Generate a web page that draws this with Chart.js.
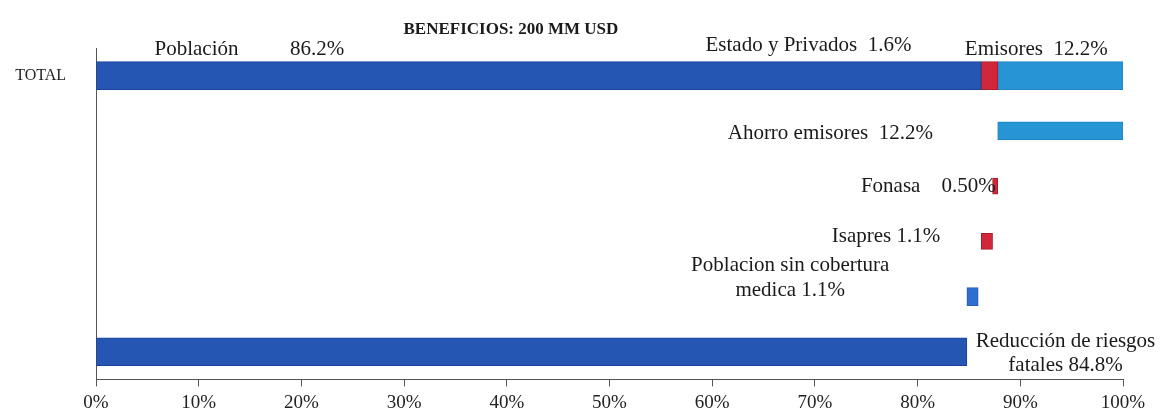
<!DOCTYPE html>
<html>
<head>
<meta charset="utf-8">
<script src="https://cdn.jsdelivr.net/npm/chart.js@4.4.1/dist/chart.umd.min.js"></script>
<style>
    html, body { margin: 0; padding: 0; background: #fff; }
    #wrap { width: 1162px; height: 419px; }
</style>
</head>
<body>
<div id="wrap"><canvas id="chart"></canvas></div>
<script>
// Data
const categories = ["TOTAL", "Ahorro emisores", "Fonasa", "Isapres", "Poblacion sin cobertura medica", "Reducción de riesgos fatales"];
const totalNames = ["Población", "Estado y Privados", "Emisores"];
const totalShares = [86.2, 1.6, 12.2];
const detailNames = ["Ahorro emisores", "Fonasa", "Isapres", "Poblacion sin cobertura medica", "Reducción de riesgos fatales"];
const detailShares = [12.2, 0.5, 1.1, 1.1, 84.8];
const xTicks = [0, 10, 20, 30, 40, 50, 60, 70, 80, 90, 100];

const DARK = "#2656b4", LIGHT = "#2795d5", RED = "#d1273a", MID = "#2f6fcf";
const FONT = "'Liberation Serif', 'Times New Roman', serif";

// waterfall ranges
const pob = totalShares[0];
const estEnd = pob + totalShares[1];
const [ahorro, fonasa, isapres, sinCob, reduc] = detailShares;

const blank = () => categories.map(() => null);
function row(idx, range) { const d = blank(); d[idx] = range; return d; }

const thickDark = blank(); thickDark[0] = [0, pob]; thickDark[5] = [0, reduc];
const thickRed = row(0, [pob, estEnd]);
const thickLight = row(0, [estEnd, estEnd + totalShares[2]]);
const thinLight = row(1, [100 - ahorro, 100]);
const thinRed = blank(); thinRed[3] = [pob, pob + isapres]; thinRed[2] = [pob + isapres, pob + isapres + fonasa];
const thinMid = row(4, [reduc, reduc + sinCob]);

const pct = v => v.toFixed(1) + "%";

// text labels around the bars
const labelPlugin = {
    id: "labels",
    afterDatasetsDraw(chart) {
        const { ctx, scales: { x, y } } = chart;
        const yp = i => y.getPixelForValue(i);
        ctx.save();
        ctx.fillStyle = "#1a1a1a";
        ctx.textBaseline = "middle";
        ctx.font = "bold 17px " + FONT;
        ctx.textAlign = "center";
        ctx.fillText("BENEFICIOS: 200 MM USD", x.getPixelForValue(40.4), 30);

        ctx.font = "21px " + FONT;
        const top = yp(0) - 26;
        ctx.textAlign = "left";
        ctx.fillText(totalNames[0], x.getPixelForValue(5.7), top);
        ctx.fillText(pct(totalShares[0]), x.getPixelForValue(18.9), top);
        ctx.textAlign = "right";
        ctx.fillText(totalNames[1] + "  " + pct(totalShares[1]), x.getPixelForValue(79.4), top - 4);
        ctx.textAlign = "left";
        ctx.fillText(totalNames[2] + "  " + pct(totalShares[2]), x.getPixelForValue(84.6), top);

        ctx.textAlign = "right";
        ctx.fillText(detailNames[0] + "  " + pct(ahorro), x.getPixelForValue(81.5), yp(1) + 3);
        ctx.fillText(detailNames[1] + "    " + fonasa.toFixed(2) + "%", x.getPixelForValue(87.6), yp(2));
        ctx.fillText(detailNames[2] + " " + pct(isapres), x.getPixelForValue(82.2), yp(3) - 5);

        ctx.textAlign = "center";
        ctx.fillText("Poblacion sin cobertura", x.getPixelForValue(67.6), yp(4) - 31);
        ctx.fillText("medica " + pct(sinCob), x.getPixelForValue(67.6), yp(4) - 6);
        ctx.fillText("Reducción de riesgos", x.getPixelForValue(94.4), yp(5) - 10);
        ctx.fillText("fatales " + pct(reduc), x.getPixelForValue(94.4), yp(5) + 14);
        ctx.restore();
    }
};

function ds(data, color, border, thick) {
    return { data, backgroundColor: color, borderColor: border, borderWidth: 1, borderSkipped: false,
             barThickness: thick, grouped: false };
}

new Chart(document.getElementById("chart"), {
    type: "bar",
    data: {
        labels: categories,
        datasets: [
            ds(thickDark, DARK, "#1b4399", 28),
            ds(thickRed, RED, "#a81c2c", 28),
            ds(thickLight, LIGHT, "#2085c2", 28),
            ds(thinLight, LIGHT, "#2085c2", 18),
            ds(thinRed, RED, "#a81c2c", 16),
            ds(thinMid, MID, "#2660b8", 18)
        ]
    },
    options: {
        indexAxis: "y",
        responsive: true,
        maintainAspectRatio: false,
        animation: false,
        layout: { padding: { top: 48, right: 39, left: 0, bottom: 0 } },
        plugins: { legend: { display: false }, tooltip: { enabled: false } },
        scales: {
            x: {
                type: "linear", min: 0, max: 100,
                afterBuildTicks: s => { s.ticks = xTicks.map(v => ({ value: v })); },
                afterFit: s => { s.height = 36; },
                ticks: { callback: v => v + "%", color: "#222", font: { family: FONT, size: 19 }, padding: 5, maxRotation: 0 },
                grid: { drawOnChartArea: false, drawTicks: true, tickLength: 7, color: "#555" },
                border: { color: "#555", width: 1 }
            },
            y: {
                afterFit: s => { s.width = 96; },
                ticks: { callback: (v, i) => i === 0 ? categories[0] : "", color: "#222", font: { family: FONT, size: 16 }, padding: 30 },
                grid: { drawOnChartArea: false, drawTicks: false },
                border: { color: "#555", width: 1 }
            }
        }
    },
    plugins: [labelPlugin]
});
</script>
</body>
</html>
